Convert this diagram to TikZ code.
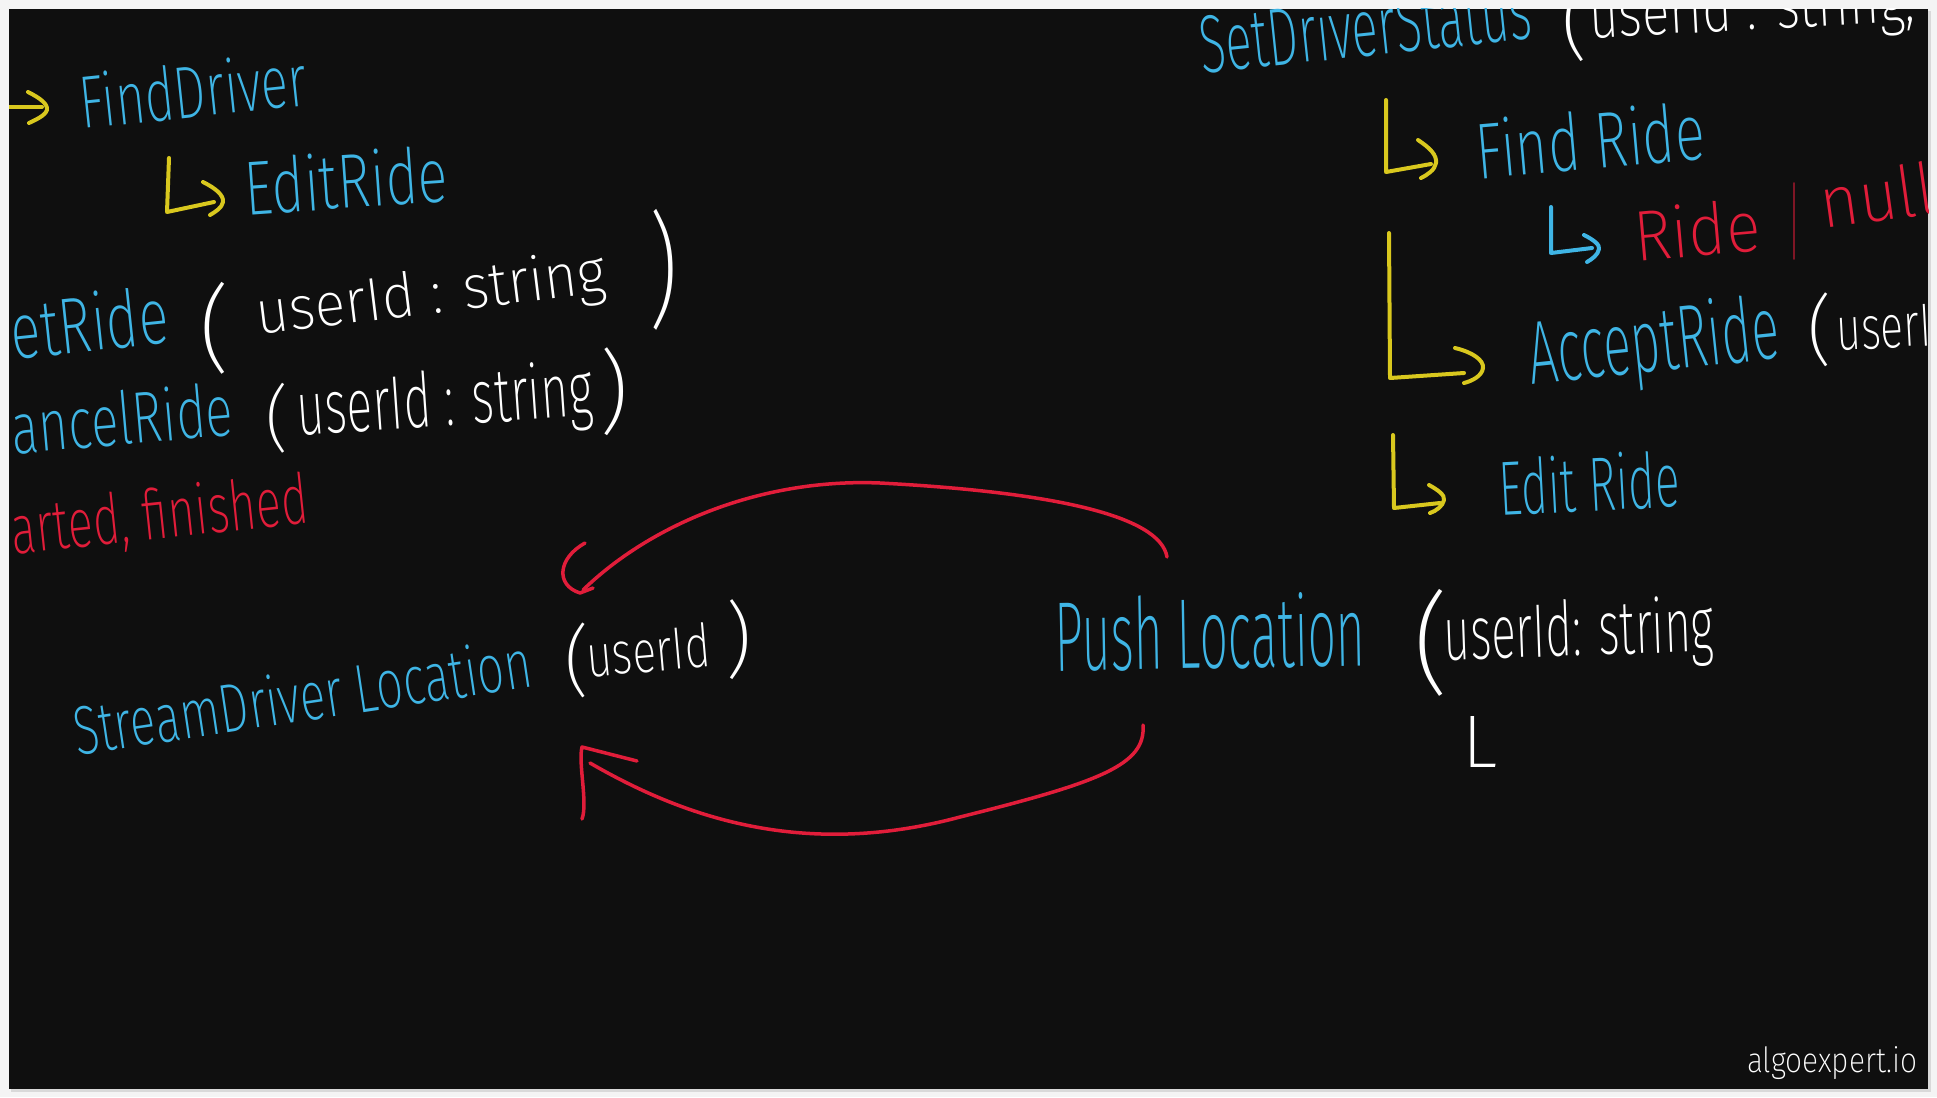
\documentclass[tikz,border=0pt]{standalone}
\usepackage{fontspec}
\usepackage{graphicx}
\IfFontExistsTF{Fira Sans ExtraLight}{\newfontfamily\hand{Fira Sans ExtraLight}}{\IfFontExistsTF{Fira Sans Light}{\newfontfamily\hand{Fira Sans Light}}{\newfontfamily\hand{Fira Sans}}}
\definecolor{bgc}{HTML}{0F0F0F}
\definecolor{outerc}{HTML}{F4F4F4}
\definecolor{cyc}{HTML}{3FB5E5}
\definecolor{ylc}{HTML}{D9C81E}
\definecolor{rdc}{HTML}{E11D3A}
\newcommand{\tx}[3]{\resizebox*{#1pt}{#2pt}{\hand #3}}
\newcommand{\txh}[2]{\resizebox*{!}{#1pt}{\hand #2}}
\tikzset{
  hw/.style={inner sep=0pt, outer sep=0pt, anchor=center},
  cyt/.style={hw, text=cyc},
  wht/.style={hw, text=white},
  rdt/.style={hw, text=rdc},
  pen/.style={line width=4pt, line cap=round, line join=round},
  ylpen/.style={pen, draw=ylc},
  cypen/.style={pen, draw=cyc},
  rdpen/.style={line width=3.5pt, line cap=round, line join=round, draw=rdc}
}
\begin{document}
\begin{tikzpicture}[x=1pt,y=-1pt]
\useasboundingbox (0,0) rectangle (1937,1097);
\fill[outerc] (0,0) rectangle (1937,1097);
\fill[gray!30] (11,11) rectangle (1931,1092);
\fill[bgc] (9,9) rectangle (1928,1089);
\begin{scope}
\clip (9,9) rectangle (1928,1089);

% ---------- left column ----------
\draw[ylpen] (0,107) -- (42,107);
\draw[ylpen] (28,92) .. controls (40,98) and (48,104) .. (47,110) .. controls (45,116) and (35,120) .. (29,123);
\node[cyt, rotate=6] (finddriver) at (193,90) {\tx{228}{56}{FindDriver}};

\draw[ylpen] (169,158) -- (167,212) -- (214,202);
\draw[ylpen] (203,182) .. controls (215,188) and (224,195) .. (223,202) .. controls (222,208) and (215,212) .. (210,215);
\node[cyt, rotate=4] (editride1) at (346,180) {\tx{203}{58}{EditRide}};

\node[cyt, rotate=6] (getride) at (89,322) {\tx{158}{60}{etRide}};
\node[wht] (gp1) at (215,328) {\txh{92}{(}};
\node[wht, rotate=7] (getarg) at (431,297) {\tx{352}{58}{userId : string}};
\node[wht] (gp2) at (663,270) {\tx{30}{121}{)}};

\node[cyt, rotate=5] (cancelride) at (122,418) {\tx{222}{55}{ancelRide}};
\node[wht] (cp1) at (277,418) {\txh{70}{(}};
\node[wht, rotate=4] (cancelarg) at (445,405) {\tx{296}{72}{userId : string}};
\node[wht] (cp2) at (614,392) {\txh{88}{)}};

\node[rdt, rotate=6] (status) at (160,518) {\tx{298}{62}{arted, finished}};

% ---------- stream / push ----------
\node[cyt, rotate=8.5] (stream) at (302,696) {\tx{462}{52}{StreamDriver Location}};
\node[wht] (sp1) at (577,660) {\txh{75}{(}};
\node[wht, rotate=5] (streamarg) at (648,650) {\tx{124}{45}{userId}};
\node[wht] (sp2) at (739,640) {\txh{80}{)}};

\node[cyt, rotate=1] (push) at (1210,632) {\tx{311}{75}{Push Location}};
\node[wht] (pp1) at (1431,643) {\txh{107}{(}};
\node[wht, rotate=2] (pusharg) at (1579,635) {\tx{270}{72}{userId: string}};
\node[wht] (pl) at (1480,742) {\tx{35}{51}{L}};

% red arrows
\coordinate (a1s) at (1167,557);
\coordinate (a1e) at (583,590);
\draw[rdpen] (a1s) .. controls (1160,515) and (1050,492) .. (880,483) .. controls (760,478) and (650,525) .. (a1e);
\draw[rdpen] ([shift={(10,-2)}]a1e) -- ([shift={(-3,3)}]a1e) .. controls ([shift={(-28,-5)}]a1e) and ([shift={(-25,-32)}]a1e) .. ([shift={(2,-47)}]a1e);

\coordinate (a2s) at (1143,725);
\coordinate (a2e) at (590,763);
\draw[rdpen] (a2s) .. controls (1146,765) and (1100,782) .. (960,817) .. controls (800,860) and (680,815) .. (a2e);
\draw[rdpen] ([shift={(-8,56)}]a2e) .. controls ([shift={(-2,40)}]a2e) and ([shift={(-12,0)}]a2e) .. ([shift={(-8,-16)}]a2e) -- ([shift={(47,-2)}]a2e);

% ---------- right column ----------
\node[cyt, rotate=6] (setstatus) at (1365,26) {\tx{333}{62}{SetDriverStatus}};
\node[wht] (ssp1) at (1575,22) {\txh{80}{(}};
\node[wht, rotate=3] (setarg) at (1752,12) {\tx{326}{62}{userId : string,}};

\draw[ylpen] (1386,100) -- (1386,172) -- (1431,164);
\draw[ylpen] (1418,140) .. controls (1430,148) and (1437,155) .. (1436,163) .. controls (1435,170) and (1427,175) .. (1421,178);
\node[cyt, rotate=5] (findride) at (1590,140) {\tx{229}{60}{Find Ride}};

\draw[cypen] (1551,207) -- (1551,253) -- (1592,248);
\draw[cypen] (1584,235) .. controls (1594,240) and (1600,245) .. (1599,249) .. controls (1598,255) and (1592,259) .. (1587,262);
\node[rdt, rotate=5] (ride) at (1697,230) {\tx{126}{54}{Ride}};
\node[rdt] (bar) at (1794,222) {\tx{10}{77}{|}};
\node[rdt, rotate=8] (null) at (1877,195) {\tx{115}{54}{null}};

\draw[ylpen] (1389,233) -- (1390,378) -- (1464,373);
\draw[ylpen] (1455,348) .. controls (1472,352) and (1484,360) .. (1483,368) .. controls (1482,376) and (1472,381) .. (1464,383);
\node[cyt, rotate=6] (acceptride) at (1654,347) {\tx{252}{85}{AcceptRide}};
\node[wht] (ap1) at (1820,330) {\txh{74}{(}};
\node[wht, rotate=3] (acceptarg) at (1896,325) {\tx{120}{46}{userId}};

\draw[ylpen] (1393,435) -- (1394,508) -- (1440,503);
\draw[ylpen] (1429,485) .. controls (1438,490) and (1445,495) .. (1444,500) .. controls (1443,506) and (1436,511) .. (1430,513);
\node[cyt, rotate=3] (editride2) at (1589,483) {\tx{181}{58}{Edit Ride}};

\node[wht] (logo) at (1832,1063) {\tx{170}{33}{algoexpert.io}};
\end{scope}
\end{tikzpicture}
\end{document}
